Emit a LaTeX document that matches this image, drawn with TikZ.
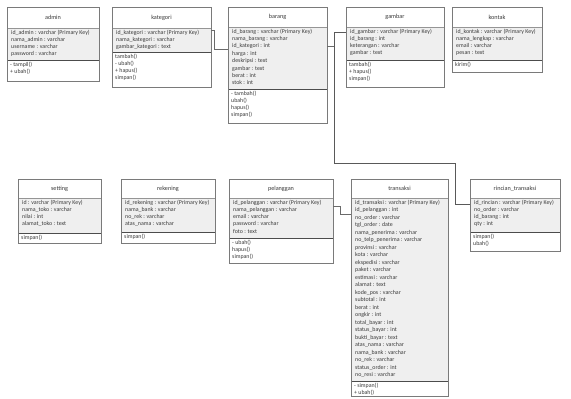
\documentclass[tikz,border=0pt]{standalone}
\usepackage{fontspec}
\setmainfont{Carlito}
\usetikzlibrary{calc,fit}

\definecolor{framegray}{HTML}{7A7A7A}
\definecolor{attrbg}{HTML}{EFEFEF}
\definecolor{ink}{HTML}{3A3A3A}
\definecolor{wiregray}{HTML}{6A6A6A}

\tikzset{
  classframe/.style={draw=framegray, line width=0.9pt, inner sep=0pt, rectangle},
  attrarea/.style={fill=attrbg},
  titlesep/.style={draw=framegray!80, line width=0.6pt},
  methsep/.style={draw=black!70, line width=1pt},
  titletext/.style={font=\fontsize{6.2}{7}\selectfont, text=ink, inner sep=0pt},
  membertext/.style={align=left, text=ink, inner sep=0pt, anchor=north west},
  wire/.style={draw=wiregray, line width=0.8pt},
}

% dims: left, top, right, title bottom, attributes bottom, bottom
\def\umldims#1,#2,#3,#4,#5,#6\relax{%
  \def\ux{#1}\def\uy{#2}\def\ur{#3}\def\ut{#4}\def\ua{#5}\def\ub{#6}}

% \umlclass[line spacing]{name}{dims}{title}{attributes}{operations}
\newcommand\umlclass[6][7.3]{%
  \umldims#3\relax
  \fill[attrarea] (\ux,\ut) rectangle (\ur,\ua);
  \draw[titlesep] (\ux,\ut) -- (\ur,\ut);
  \draw[methsep] (\ux,\ua) -- (\ur,\ua);
  \node[classframe, fit={(\ux,\uy) (\ur,\ub)}] (#2) {};
  \node[titletext] (#2-title) at ({(\ux+\ur)/2},{(\uy+\ut)/2}) {#4};
  \node[membertext, font={\fontsize{5.9}{#1}\selectfont}] (#2-attrs)
    at (\ux+4,\ut+1.5) {#5};
  \node[membertext, font={\fontsize{5.9}{7.2}\selectfont}] (#2-ops)
    at (\ux+3,\ua+1.5) {#6};
}

\begin{document}
\begin{tikzpicture}[x=1pt, y=-1pt]
\useasboundingbox[fill=white] (0,0) rectangle (571,399);

% ---- upper row ----
\umlclass{admin}{7,7,99,28,60,81}{admin}
  {id\_admin : varchar (Primary Key)\\nama\_admin : varchar\\username : varchar\\password : varchar}
  {- tampil()\\+ ubah()}

\umlclass{kategori}{112,7,211,28,52,87}{kategori}
  {id\_kategori : varchar (Primary Key)\\nama\_kategori : varchar\\gambar\_kategori : text}
  {tambah()\\- ubah()\\+ hapus()\\simpan()}

\umlclass[7.4]{barang}{228,7,327,27,89,123}{barang}
  {id\_barang : varchar (Primary Key)\\nama\_barang : varchar\\id\_kategori : int\\harga : int\\deskripsi : text\\gambar : text\\berat : int\\stok : int}
  {- tambah()\\ubah()\\hapus()\\simpan()}

\umlclass{gambar}{346,7,444,27,60,87}{gambar}
  {id\_gambar : varchar (Primary Key)\\id\_barang : int\\keterangan : varchar\\gambar : text}
  {tambah()\\+ hapus()\\simpan()}

\umlclass{kontak}{452,7,542,27,60,72}{kontak}
  {id\_kontak : varchar (Primary Key)\\nama\_lengkap : varchar\\email : varchar\\pesan : text}
  {kirim()}

% ---- lower row ----
\umlclass{setting}{18,179,101,198,233,243}{setting}
  {id : varchar (Primary Key)\\nama\_toko : varchar\\nilai : int\\alamat\_toko : text}
  {simpan()}

\umlclass{rekening}{121,179,215,198,232,243}{rekening}
  {id\_rekening : varchar (Primary Key)\\nama\_bank : varchar\\no\_rek : varchar\\atas\_nama : varchar}
  {simpan()}

\umlclass{pelanggan}{229,179,333,198,238,263}{pelanggan}
  {id\_pelanggan : varchar (Primary Key)\\nama\_pelanggan : varchar\\email : varchar\\password : varchar\\foto : text}
  {- ubah()\\hapus()\\simpan()}

\umlclass[7.5]{transaksi}{351,179,448,198,381,396}{transaksi}
  {id\_transaksi : varchar (Primary Key)\\id\_pelanggan : int\\no\_order : varchar\\tgl\_order : date\\nama\_penerima : varchar\\no\_telp\_penerima : varchar\\provinsi : varchar\\kota : varchar\\ekspedisi : varchar\\paket : varchar\\estimasi : varchar\\alamat : text\\kode\_pos : varchar\\subtotal : int\\berat : int\\ongkir : int\\total\_bayar : int\\status\_bayar : int\\bukti\_bayar : text\\atas\_nama : varchar\\nama\_bank : varchar\\no\_rek : varchar\\status\_order : int\\no\_resi : varchar}
  {- simpan()\\+ ubah()}

\umlclass{rincian}{470,179,560,198,232,251}{rincian\_transaksi}
  {id\_rincian : varchar (Primary Key)\\no\_order : varchar\\id\_barang : int\\qty : int}
  {simpan()\\ubah()}

% ---- relations ----
\draw[wire] ($(kategori.north east)+(0,24)$) -- ++(3,0)
  |- ($(barang.north west)+(0,43)$);

\coordinate (bj) at ($(barang.north east)+(7,40)$);
\draw[wire] ($(barang.north east)+(0,40)$) -- (bj);
\draw[wire, line width=1.1pt, draw=black!65] (bj) |- ($(gambar.north west)+(0,26)$);
\draw[wire, line width=1.1pt, draw=black!65] (bj) -- ++(0,117)
  -| ($(rincian.north west)+(-14,26)$) -- ($(rincian.north west)+(0,26)$);

\draw[wire] ($(pelanggan.north east)+(0,28)$) -- ++(7,0)
  |- ($(transaksi.north west)+(0,36)$);

\end{tikzpicture}
\end{document}
